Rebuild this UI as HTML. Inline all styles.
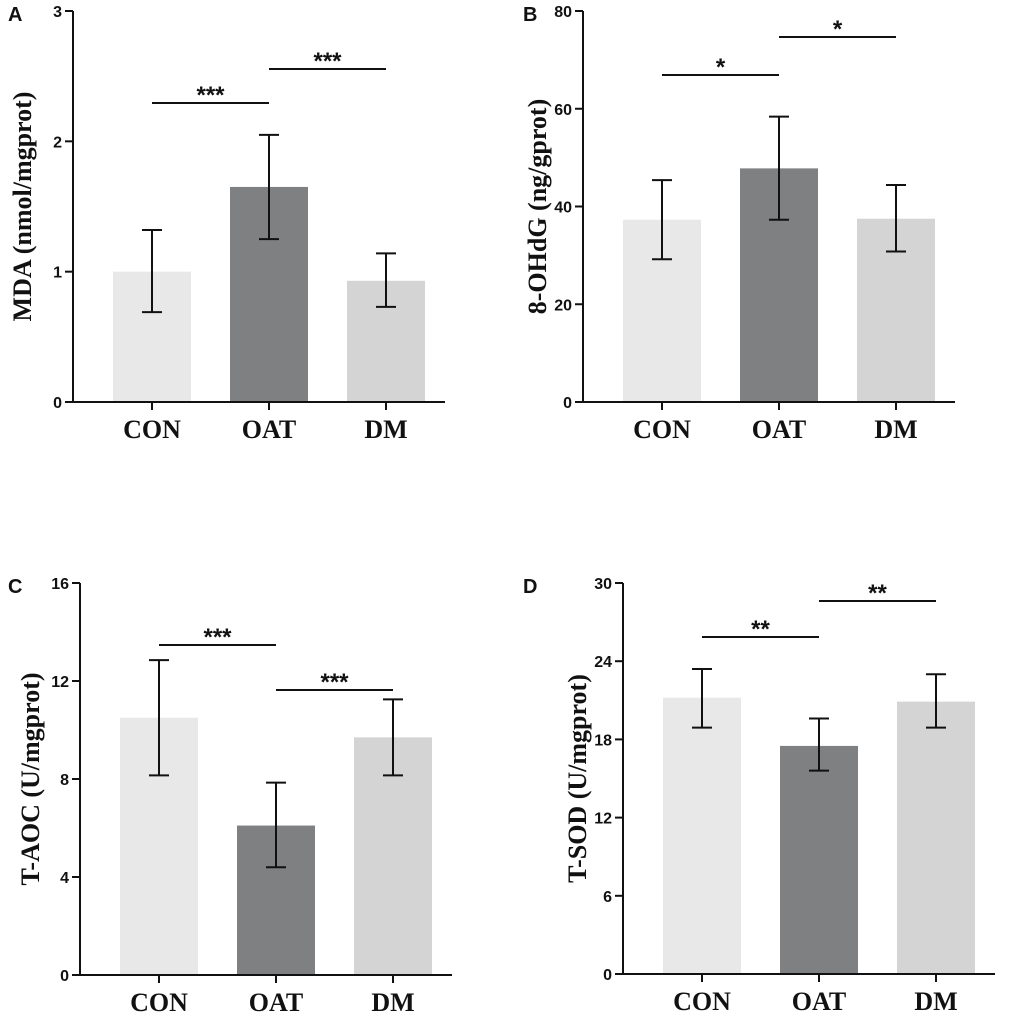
<!DOCTYPE html>
<html><head><meta charset="utf-8"><style>
body{margin:0;background:#fff}
</style></head><body>
<svg id="chart" width="1020" height="1018" xmlns="http://www.w3.org/2000/svg"></svg>
<script>
const categories=["CON","OAT","DM"];
const mdaValues=[1.0,1.65,0.93];
const mdaLow=[0.69,1.25,0.73];
const mdaHigh=[1.32,2.05,1.14];
const ohdgValues=[37.3,47.8,37.5];
const ohdgLow=[29.2,37.3,30.8];
const ohdgHigh=[45.4,58.4,44.4];
const taocValues=[10.5,6.1,9.7];
const taocLow=[8.15,4.4,8.15];
const taocHigh=[12.85,7.85,11.25];
const sodValues=[21.2,17.5,20.9];
const sodLow=[18.9,15.6,18.9];
const sodHigh=[23.4,19.6,23.0];
const mdaTicks=[0,1,2,3];
const ohdgTicks=[0,20,40,60,80];
const taocTicks=[0,4,8,12,16];
const sodTicks=[0,6,12,18,24,30];
const mdaSig=["***","***"];
const ohdgSig=["*","*"];
const taocSig=["***","***"];
const sodSig=["**","**"];
const colors=["#e8e8e8","#7f8082","#d4d4d4"];
const svg=document.getElementById('chart');
const NS="http://www.w3.org/2000/svg";
const SANS='font-family:"Liberation Sans",sans-serif';
const SERIF='font-family:"Liberation Serif",serif';
function mk(tag,attrs,parent){const e=document.createElementNS(NS,tag);for(const k in attrs)e.setAttribute(k,attrs[k]);(parent||svg).appendChild(e);return e;}
function panel(cfg){
  const g=mk('g',{});
  
  
  const max=cfg.ticks[cfg.ticks.length-1];
  const y=v=>cfg.bottom-(v/max)*(cfg.bottom-cfg.top);
  const xc=i=>cfg.ax+79+i*117;
  const lt=mk('text',{x:cfg.lx,y:cfg.top+10,'font-size':20,'font-weight':'bold',fill:'#111',style:SANS},g);lt.textContent=cfg.letter;
  
  
  cfg.vals.forEach((v,i)=>{
    const r=mk('rect',{x:xc(i)-39,y:y(v),width:78,height:cfg.bottom-y(v),fill:colors[i]},g);
    
    
    const eb=mk('g',{stroke:'#111','stroke-width':2},g);
    
    
    mk('line',{x1:xc(i),x2:xc(i),y1:y(cfg.lo[i]),y2:y(cfg.hi[i])},eb);
    mk('line',{x1:xc(i)-10,x2:xc(i)+10,y1:y(cfg.lo[i]),y2:y(cfg.lo[i])},eb);
    mk('line',{x1:xc(i)-10,x2:xc(i)+10,y1:y(cfg.hi[i]),y2:y(cfg.hi[i])},eb);
    const t=mk('text',{x:xc(i),y:cfg.bottom+36,'text-anchor':'middle','font-size':26,'font-weight':'bold',style:SERIF,fill:'#111'},g);
    t.textContent=categories[i];
    
    
    mk('line',{x1:xc(i),x2:xc(i),y1:cfg.bottom,y2:cfg.bottom+8,stroke:'#111','stroke-width':2},g);
  });
  const axis=mk('g',{stroke:'#111','stroke-width':2},g);
  
  
  mk('line',{x1:cfg.ax,x2:cfg.ax,y1:cfg.top,y2:cfg.bottom+1},axis);
  mk('line',{x1:cfg.ax-8,x2:cfg.ax+372,y1:cfg.bottom,y2:cfg.bottom},axis);
  cfg.ticks.forEach(tv=>{
    mk('line',{x1:cfg.ax-8,x2:cfg.ax,y1:y(tv),y2:y(tv)},axis);
    const t=mk('text',{x:cfg.ax-11,y:y(tv)+6,'text-anchor':'end','font-size':16,'font-weight':'bold',fill:'#111',style:SANS},g);
    t.textContent=tv;
    
    
  });
  const cy=(cfg.top+cfg.bottom)/2;
  const yt=mk('text',{x:cfg.tx,y:cy,transform:`rotate(-90 ${cfg.tx} ${cy})`,'text-anchor':'middle','font-size':26,'font-weight':'bold',style:SERIF,fill:'#111'},g);
  yt.textContent=cfg.title;
  
  
  cfg.sigY.forEach((sy,k)=>{
    const sg=mk('g',{},g);
    
    
    mk('line',{x1:xc(k),x2:xc(k+1),y1:sy,y2:sy,stroke:'#111','stroke-width':2},sg);
    const st=mk('text',{x:(xc(k)+xc(k+1))/2,y:sy,'text-anchor':'middle','font-size':24,'font-weight':'bold',fill:'#111',style:SANS},sg);
    st.textContent=cfg.sig[k];
  });
}
panel({letter:'A',lx:8,ax:73,top:11,bottom:402,ticks:mdaTicks,vals:mdaValues,lo:mdaLow,hi:mdaHigh,title:'MDA (nmol/mgprot)',tx:31,sig:mdaSig,sigY:[103,69]});
panel({letter:'B',lx:523,ax:583,top:11,bottom:402,ticks:ohdgTicks,vals:ohdgValues,lo:ohdgLow,hi:ohdgHigh,title:'8-OHdG (ng/gprot)',tx:546,sig:ohdgSig,sigY:[75,37]});
panel({letter:'C',lx:8,ax:80,top:583,bottom:975,ticks:taocTicks,vals:taocValues,lo:taocLow,hi:taocHigh,title:'T-AOC (U/mgprot)',tx:39,sig:taocSig,sigY:[645,690]});
panel({letter:'D',lx:523,ax:623,top:583,bottom:974,ticks:sodTicks,vals:sodValues,lo:sodLow,hi:sodHigh,title:'T-SOD (U/mgprot)',tx:586,sig:sodSig,sigY:[637,601]});
</script>
</body></html>
